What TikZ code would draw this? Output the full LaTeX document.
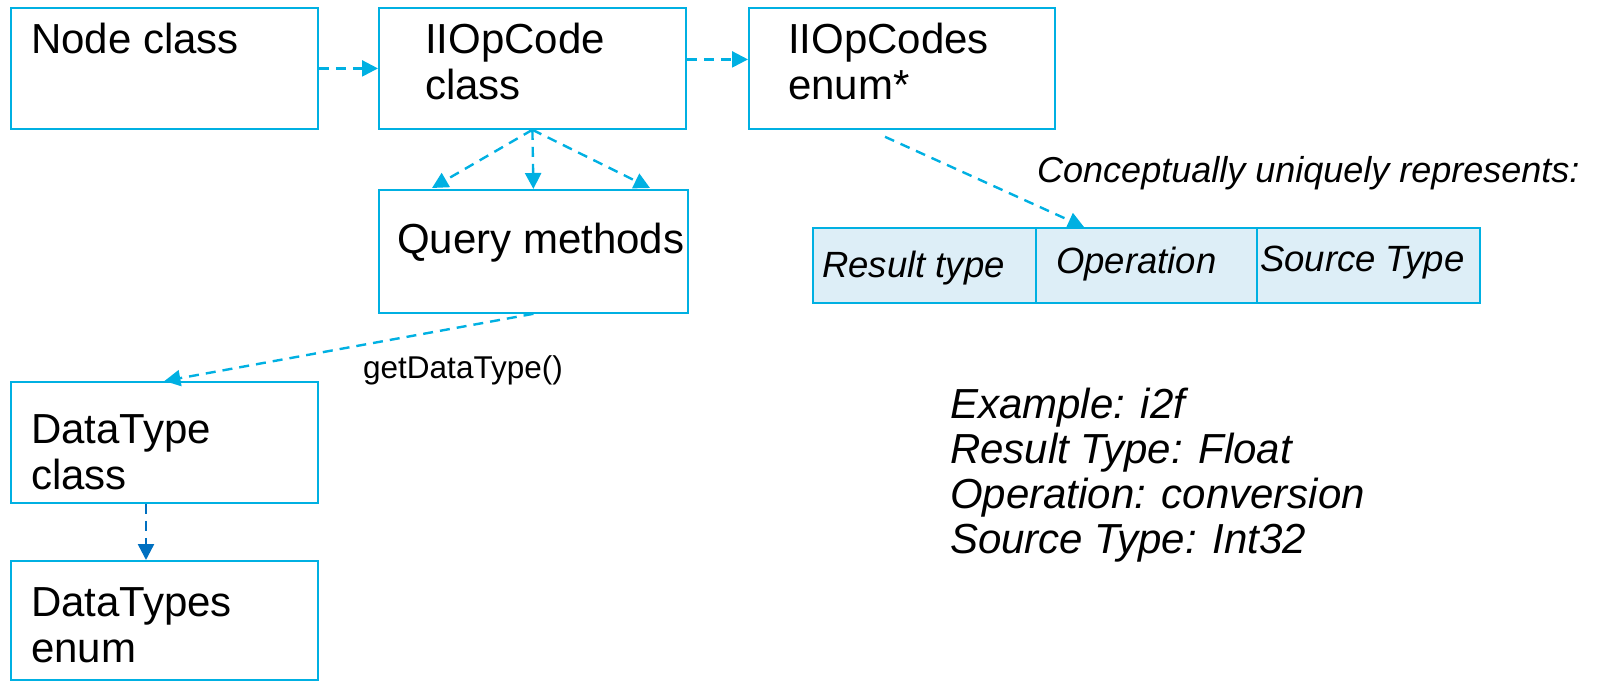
\documentclass[tikz,border=0pt]{standalone}
\usepackage{fontspec}
\setmainfont{Liberation Sans}
\usetikzlibrary{arrows.meta,calc}
\definecolor{cy}{RGB}{0,176,226}
\definecolor{dk}{RGB}{0,112,192}
\definecolor{cellfill}{RGB}{221,238,247}
\begin{document}
\begin{tikzpicture}[x=1pt,y=-1pt,
 box/.style={draw=cy,line width=1.8pt,anchor=north west,inner sep=0pt},
 lbl/.style={anchor=base west,inner sep=0pt,align=left,font=\fontsize{42}{46}\selectfont},
 cell/.style={draw=cy,fill=cellfill,line width=1.8pt,anchor=north west,inner sep=0pt,minimum height=75pt},
 ital/.style={anchor=base west,inner sep=0pt,font=\fontsize{36.5}{44}\selectfont\itshape},
 darr/.style={draw=cy,line width=2.4pt,dash pattern=on 10pt off 7pt,-{Triangle[length=16pt,width=16pt]}}
]
\useasboundingbox (0,0) rectangle (1604,681);
% boxes
\node[box,minimum width=307pt,minimum height=121pt] (nodecls) at (10,7) {};
\node[box,minimum width=307pt,minimum height=121pt] (opc) at (378,7) {};
\node[box,minimum width=306pt,minimum height=121pt] (opcs) at (748,7) {};
\node[box,minimum width=309pt,minimum height=123pt] (query) at (378,189) {};
\node[box,minimum width=307pt,minimum height=121pt] (dtc) at (10,381) {};
\node[box,minimum width=307pt,minimum height=119pt] (dts) at (10,560) {};
% cells
\node[cell,minimum width=223pt] (rt) at (812,227) {};
\node[cell,minimum width=221pt] (op) at (1035,227) {};
\node[cell,minimum width=223pt] (st) at (1256,227) {};
% texts (base = last line)
\node[lbl] (t1) at (31,53) {Node class};
\node[lbl] (t2) at (425,99) {IIOpCode\\class};
\node[lbl] (t3) at (788,99) {IIOpCodes\\enum*};
\node[lbl] (t4) at (397,253) {Query methods};
\node[lbl] (t5) at (31,489) {DataType\\class};
\node[lbl] (t6) at (31,662) {DataTypes\\enum};
\node[ital] (c1) at (822,277) {Result type};
\node[ital] (c2) at (1056,273) {Operation};
\node[ital] (c3) at (1260,271) {Source Type};
\node[anchor=base west,inner sep=0pt,font=\fontsize{31.5}{36}\selectfont] (gdt) at (363,378) {getDataType()};
\node[anchor=base west,inner sep=0pt,font=\fontsize{36}{42}\selectfont\itshape] (concept) at (1037,182) {Conceptually uniquely represents:};
\node[lbl,font=\fontsize{42}{45}\selectfont\itshape] (ex) at (950,553) {Example: i2f\\Result Type: Float\\Operation: conversion\\Source Type: Int32};
% connectors
\coordinate (qa) at (432,188);
\coordinate (qc) at (650,188);
\coordinate (e1) at ($(opcs.south west)+(137,7)$);
\coordinate (e2) at (1084,227);
\draw[darr] (nodecls.east) -- (nodecls.east -| opc.west);
\draw[darr] ($(opc.east)+(0,-9)$) -- ($(opc.east -| opcs.west)+(0,-9)$);
\draw[darr] (opc.south) -- (qa);
\draw[darr] (opc.south) -- (query.north);
\draw[darr] (opc.south) -- (qc);
\draw[darr] (query.south) -- (dtc.north);
\draw[darr] (e1) -- (e2);
\draw[darr,draw=dk] ($(dtc.south west)+(136,0)$) -- ($(dts.north west)+(136,0)$);
\end{tikzpicture}
\end{document}
